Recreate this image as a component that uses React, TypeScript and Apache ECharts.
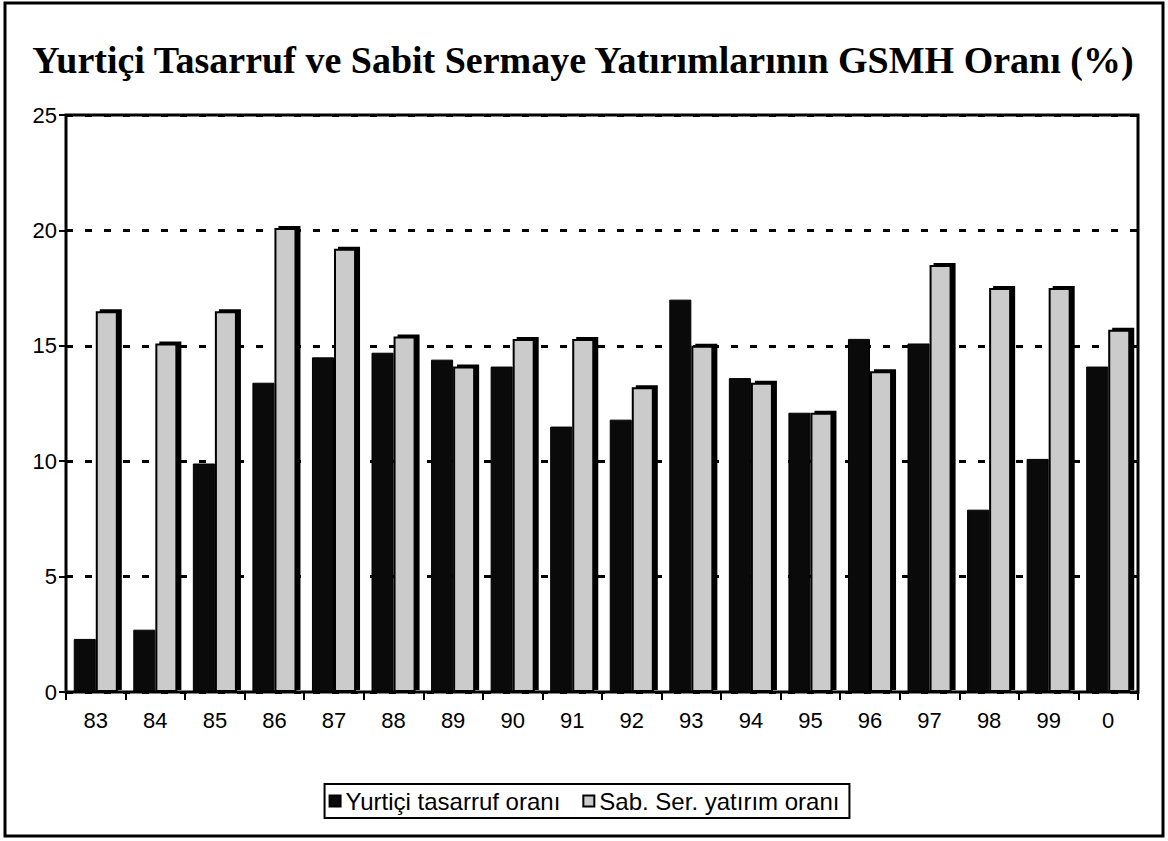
import React, { useEffect, useRef } from "react";
import * as echarts from "echarts";

const titleText = "Yurtiçi Tasarruf ve Sabit Sermaye Yatırımlarının GSMH Oranı (%)";
const years = ["83", "84", "85", "86", "87", "88", "89", "90", "91", "92", "93", "94", "95", "96", "97", "98", "99", "0"];
const savingsRate = [2.3, 2.7, 9.9, 13.4, 14.5, 14.7, 14.4, 14.1, 11.5, 11.8, 17.0, 13.6, 12.1, 15.3, 15.1, 7.9, 10.1, 14.1];
const investmentRate = [16.5, 15.1, 16.5, 20.1, 19.2, 15.4, 14.1, 15.3, 15.3, 13.2, 15.0, 13.4, 12.1, 13.9, 18.5, 17.5, 17.5, 15.7];
const seriesNames = ["Yurtiçi tasarruf oranı", "Sab. Ser. yatırım oranı"];
const yTicks = { min: 0, max: 25, interval: 5 };

export default function App() {
  const ref = useRef<HTMLDivElement>(null);
  useEffect(() => {
    if (!ref.current) return;
    const chart = echarts.init(ref.current, null, { renderer: "svg" });
    chart.setOption({
      animation: false,
      backgroundColor: "#ffffff",
      textStyle: { fontFamily: "Liberation Sans, Arial, sans-serif", color: "#000" },
      graphic: [
        {
          type: "rect",
          shape: { x: 5, y: 3, width: 1158, height: 833 },
          style: { fill: "none", stroke: "#000", lineWidth: 3 },
          silent: true,
        },
        {
          type: "rect",
          shape: { x: 66, y: 115, width: 1072, height: 577 },
          style: { fill: "none", stroke: "#000", lineWidth: 3 },
          silent: true,
          z: 100,
        },
        {
          type: "text",
          left: "center",
          top: 41,
          style: {
            text: titleText,
            font: "bold 38px 'Liberation Serif', 'Times New Roman', serif",
            fill: "#000",
          },
        },
      ],
      legend: {
        data: seriesNames,
        left: "center",
        top: 784,
        orient: "horizontal",
        icon: "rect",
        itemWidth: 11,
        itemHeight: 11,
        itemGap: 22,
        padding: [5, 10, 5, 4],
        borderColor: "#000",
        borderWidth: 2,
        textStyle: { fontSize: 24, color: "#000", fontFamily: "Liberation Sans, Arial, sans-serif" },
      },
      grid: {
        left: 66,
        right: 30,
        top: 115,
        bottom: 149,
        show: false,
        containLabel: false,
      },
      xAxis: {
        type: "category",
        data: years,
        axisLine: { show: true, lineStyle: { color: "#000", width: 2 } },
        axisTick: { show: true, length: 8, lineStyle: { color: "#000", width: 2 } },
        axisLabel: { fontSize: 22, color: "#000", margin: 17 },
      },
      yAxis: {
        type: "value",
        min: yTicks.min,
        max: yTicks.max,
        interval: yTicks.interval,
        axisLine: { show: true, lineStyle: { color: "#000", width: 2 } },
        axisTick: { show: true, length: 7, lineStyle: { color: "#000", width: 2 } },
        axisLabel: { fontSize: 22, color: "#000", margin: 9 },
        splitLine: { show: true, lineStyle: { color: "#000", width: 3, type: [7, 12] } },
      },
      series: [
        {
          name: seriesNames[0],
          type: "bar",
          data: savingsRate,
          barGap: "0%",
          barCategoryGap: "26%",
          itemStyle: { color: "#0a0a0a", borderColor: "#000", borderWidth: 1 },
        },
        {
          name: seriesNames[1],
          type: "bar",
          data: investmentRate,
          itemStyle: {
            color: "#cbcbcb",
            borderColor: "#000",
            borderWidth: 2,
            shadowColor: "#000",
            shadowBlur: 0,
            shadowOffsetX: 4,
            shadowOffsetY: -2,
          },
        },
      ],
    });
    return () => chart.dispose();
  }, []);
  return (
    <div
      ref={ref}
      style={{ position: "fixed", left: 0, top: 0, width: 1168, height: 841, background: "#fff" }}
    />
  );
}
